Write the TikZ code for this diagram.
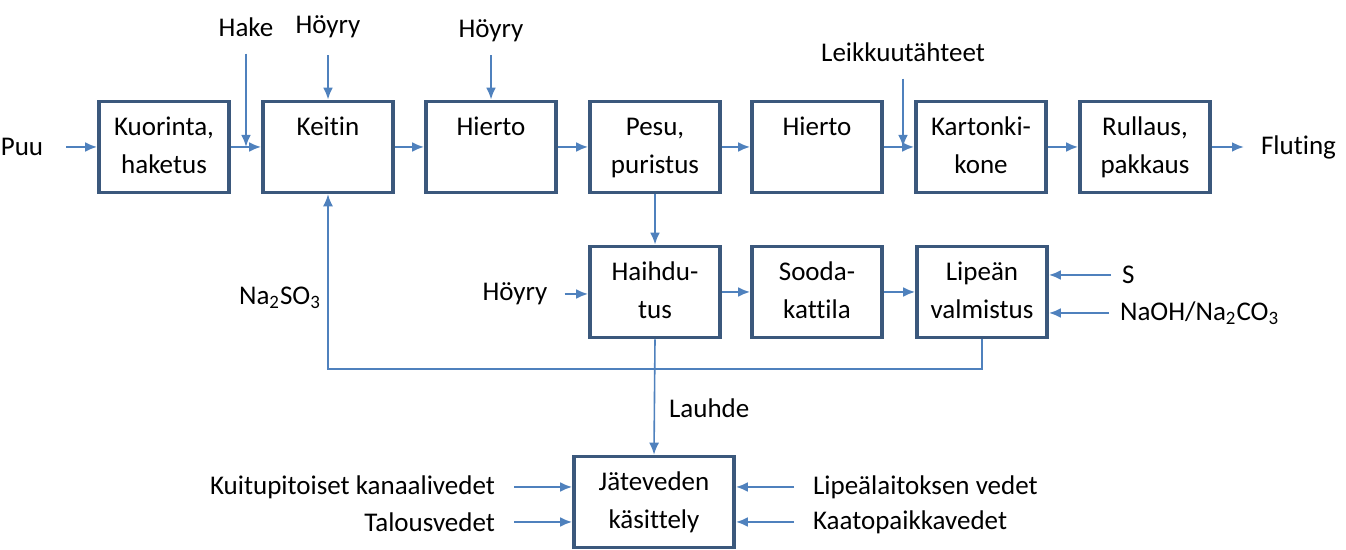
\documentclass[tikz,border=0pt]{standalone}
\usepackage{fontspec}
\setmainfont{Carlito}[Ligatures=CommonOff]
\usetikzlibrary{arrows.meta}

\definecolor{laatikko}{RGB}{59,88,124}
\definecolor{virtaus}{RGB}{79,129,189}

\newcommand{\kaksi}[2]{\strut#1\\\strut#2}

\tikzset{
    prosessi/.style={draw=laatikko, line width=1.8pt, align=center,
        minimum width=65pt, minimum height=45.5pt, inner sep=0pt},
    virta/.style={draw=virtaus, line width=1.2pt, -{Latex[length=6pt,width=5pt]}},
    paluu/.style={draw=virtaus, line width=0.8pt, -{Latex[length=6pt,width=5pt]}}
}

\begin{document}
\begin{tikzpicture}[x=0.5pt, y=-0.5pt, font=\fontsize{13.5}{19}\selectfont]
            \def\ylin{147} % main line
            \def\yhai{292} % liquor recovery line

            \useasboundingbox (0,0) rectangle (1346,550);

            % Main line boxes
            \foreach \nimi/\x/\teksti in {kuor/164/{\kaksi{Kuorinta,}{haketus}},
                keit/328/{\kaksi{Keitin}{}}, hier/491/{\kaksi{Hierto}{}},
                pesu/655/{\kaksi{Pesu,}{puristus}}, hiera/817/{\kaksi{Hierto}{}},
                kart/981/{\kaksi{Kartonki-}{kone}}, rull/1145/{\kaksi{Rullaus,}{pakkaus}}}{
                \node[prosessi] (\nimi) at (\x,\ylin) {\teksti};
            }

            % Recovery boxes
            \foreach \nimi/\x/\teksti in {haih/655/{\kaksi{Haihdu-}{tus}},
                sood/817/{\kaksi{Sooda-}{kattila}}, lipe/982/{\kaksi{Lipeän}{valmistus}}}{
                \node[prosessi] (\nimi) at (\x,\yhai) {\teksti};
            }

            % Waste water treatment
            \node[prosessi, minimum width=80pt] (jate) at (654,502)
                {\kaksi{Jäteveden}{käsittely}};

            % Main line flow
            \foreach \a/\b in {kuor/keit, keit/hier, hier/pesu, pesu/hiera,
                hiera/kart, kart/rull, haih/sood, sood/lipe}{
                \draw[virta] (\a.east) -- (\b.west);
            }
            \draw[virta] (pesu) -- (haih);

            % Inputs and outputs
            \node (puu) at (22,\ylin) {Puu};
            \draw[virta, shorten <=8pt] (puu.east) -- (kuor.west);

            \node (hake) at (246,27) {Hake};
            \draw[virta, shorten <=5pt] (hake.south) -- (hake.south |- kuor.east);

            \node (hoyrya) at (328,27) {Höyry};
            \draw[virta, shorten <=5pt] (hoyrya.south) -- (keit.north);

            \node (hoyryb) at (491,31) {Höyry};
            \draw[virta, shorten <=3pt] (hoyryb.south) -- (hier.north);

            \node (leikk) at (903,52) {Leikkuutähteet};
            \draw[virta, shorten <=5pt] (leikk.south) -- (leikk.south |- kart.west);

            \node[anchor=west] (flut) at (1254,\ylin) {Fluting};
            \draw[virta, shorten >=5pt] (rull.east) -- (rull.east -| flut.west);

            \node (hoyryc) at (515,294) {Höyry};
            \draw[virta, shorten <=5pt] (hoyryc.east) -- (hoyryc.east -| haih.west);

            \node[anchor=west] (rikki) at (1115,275) {S};
            \draw[virta, shorten <=2pt] (rikki.west) -- (rikki.west -| lipe.east);

            \node[anchor=west] (lipeke) at (1113,313) {NaOH/Na\textsubscript{2}CO\textsubscript{3}};
            \draw[virta, shorten <=2pt] (lipeke.west) -- (lipeke.west -| lipe.east);

            % Sulphite back to the digester
            \coordinate (kierto) at (328,369);
            \draw[paluu] (lipe.south) |- (kierto) -- (keit.south);
            \node (sulfiitti) at (280,298) {Na\textsubscript{2}SO\textsubscript{3}};

            % Condensate
            \draw[paluu] (haih.south) -- (jate.north);
            \node[anchor=west] (lauhde) at (662,408) {Lauhde};

            % Waters to treatment
            \node[anchor=east] (kuitu) at (502,487) {Kuitupitoiset kanaalivedet};
            \node[anchor=east] (talous) at (502,522) {Talousvedet};
            \node[anchor=west] (lipeal) at (806,487) {Lipeälaitoksen vedet};
            \node[anchor=west] (kaato) at (806,522) {Kaatopaikkavedet};
            \foreach \v in {kuitu,talous}{
                \draw[virta, shorten <=6pt] (\v.east) -- (\v.east -| jate.west);
            }
            \foreach \v in {lipeal,kaato}{
                \draw[virta, shorten <=6pt] (\v.west) -- (\v.west -| jate.east);
            }
        \end{tikzpicture}
\end{document}
